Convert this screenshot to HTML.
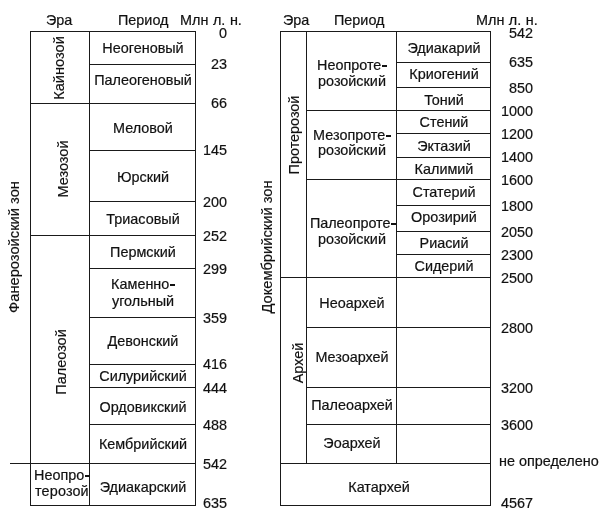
<!DOCTYPE html><html><head><meta charset="utf-8"><style>
html,body{margin:0;padding:0;background:#fff;width:603px;height:517px;overflow:hidden;position:relative}
.l{position:absolute;background:#1a1a1a}
.t{position:absolute;will-change:transform;font-family:"Liberation Sans",sans-serif;font-size:14.4px;line-height:1;color:#111;white-space:nowrap;-webkit-text-stroke:0.2px #111}
.c{text-align:center;width:200px}
.r{text-align:right;width:200px}
.hy{display:inline-block;width:4.7px;height:2px;background:#111;vertical-align:2.6px;margin-left:0.9px}
.v{text-align:center;width:200px;transform-origin:0 0;transform:rotate(-90deg)}
</style></head><body>

<div class="l" style="left:30px;top:31px;width:166px;height:1px"></div>
<div class="l" style="left:30px;top:505px;width:166px;height:1px"></div>
<div class="l" style="left:30px;top:31px;width:1px;height:475px"></div>
<div class="l" style="left:195px;top:31px;width:1px;height:475px"></div>
<div class="l" style="left:89px;top:31px;width:1px;height:475px"></div>
<div class="l" style="left:89px;top:64px;width:107px;height:1px"></div>
<div class="l" style="left:89px;top:150px;width:107px;height:1px"></div>
<div class="l" style="left:89px;top:201px;width:107px;height:1px"></div>
<div class="l" style="left:89px;top:268px;width:107px;height:1px"></div>
<div class="l" style="left:89px;top:317px;width:107px;height:1px"></div>
<div class="l" style="left:89px;top:364px;width:107px;height:1px"></div>
<div class="l" style="left:89px;top:387px;width:107px;height:1px"></div>
<div class="l" style="left:89px;top:424px;width:107px;height:1px"></div>
<div class="l" style="left:30px;top:103px;width:166px;height:1px"></div>
<div class="l" style="left:30px;top:235px;width:166px;height:1px"></div>
<div class="l" style="left:10px;top:463px;width:186px;height:1px"></div>
<div class="l" style="left:280px;top:31px;width:211px;height:1px"></div>
<div class="l" style="left:280px;top:505px;width:211px;height:1px"></div>
<div class="l" style="left:280px;top:31px;width:1px;height:475px"></div>
<div class="l" style="left:490px;top:31px;width:1px;height:475px"></div>
<div class="l" style="left:306px;top:31px;width:1px;height:433px"></div>
<div class="l" style="left:396px;top:31px;width:1px;height:433px"></div>
<div class="l" style="left:396px;top:62px;width:95px;height:1px"></div>
<div class="l" style="left:396px;top:87px;width:95px;height:1px"></div>
<div class="l" style="left:396px;top:133px;width:95px;height:1px"></div>
<div class="l" style="left:396px;top:157px;width:95px;height:1px"></div>
<div class="l" style="left:396px;top:205px;width:95px;height:1px"></div>
<div class="l" style="left:396px;top:231px;width:95px;height:1px"></div>
<div class="l" style="left:396px;top:254px;width:95px;height:1px"></div>
<div class="l" style="left:306px;top:110px;width:185px;height:1px"></div>
<div class="l" style="left:306px;top:179px;width:185px;height:1px"></div>
<div class="l" style="left:306px;top:327px;width:185px;height:1px"></div>
<div class="l" style="left:306px;top:387px;width:185px;height:1px"></div>
<div class="l" style="left:306px;top:424px;width:185px;height:1px"></div>
<div class="l" style="left:280px;top:277px;width:211px;height:1px"></div>
<div class="l" style="left:280px;top:463px;width:211px;height:1px"></div>
<div class="t" style="left:46px;top:13.31px;">Эра</div>
<div class="t" style="left:118px;top:13.31px;">Период</div>
<div class="t" style="left:180px;top:13.31px;word-spacing:0.6px">Млн л. н.</div>
<div class="t" style="left:283px;top:13.31px;">Эра</div>
<div class="t" style="left:334px;top:13.31px;">Период</div>
<div class="t" style="left:476px;top:13.31px;word-spacing:0.5px">Млн л. н.</div>
<div class="t c" style="left:43.30px;top:41.01px;">Неогеновый</div>
<div class="t c" style="left:43.30px;top:73.31px;">Палеогеновый</div>
<div class="t c" style="left:43.30px;top:120.91px;">Меловой</div>
<div class="t c" style="left:43.30px;top:169.51px;">Юрский</div>
<div class="t c" style="left:43.30px;top:211.71px;">Триасовый</div>
<div class="t c" style="left:43.30px;top:244.91px;">Пермский</div>
<div class="t c" style="left:43.30px;top:277.11px;">Каменно<span class="hy"></span></div>
<div class="t c" style="left:43.30px;top:294.01px;">угольный</div>
<div class="t c" style="left:43.30px;top:334.21px;">Девонский</div>
<div class="t c" style="left:43.30px;top:368.71px;">Силурийский</div>
<div class="t c" style="left:43.30px;top:400.01px;">Ордовикский</div>
<div class="t c" style="left:43.30px;top:437.21px;">Кембрийский</div>
<div class="t c" style="left:43.30px;top:479.81px;">Эдиакарский</div>
<div class="t" style="left:34px;top:467.81px;">Неопро<span class="hy"></span></div>
<div class="t" style="left:34.5px;top:483.81px;letter-spacing:0.15px">терозой</div>
<div class="t v" style="left:51.89px;top:168.20px;font-size:14.6px">Кайнозой</div>
<div class="t v" style="left:56.23px;top:269.20px;font-size:14.5px">Мезозой</div>
<div class="t v" style="left:53.73px;top:462.00px;font-size:14.5px">Палеозой</div>
<div class="t v" style="left:6.66px;top:347.00px;font-size:14.7px">Фанерозойский зон</div>
<div class="t r" style="left:26.50px;top:26.31px;">0</div>
<div class="t r" style="left:26.50px;top:57.31px;">23</div>
<div class="t r" style="left:26.50px;top:96.31px;">66</div>
<div class="t r" style="left:26.50px;top:143.31px;">145</div>
<div class="t r" style="left:26.50px;top:194.81px;">200</div>
<div class="t r" style="left:26.50px;top:229.11px;">252</div>
<div class="t r" style="left:26.50px;top:262.31px;">299</div>
<div class="t r" style="left:26.50px;top:310.81px;">359</div>
<div class="t r" style="left:26.50px;top:356.91px;">416</div>
<div class="t r" style="left:26.50px;top:381.31px;">444</div>
<div class="t r" style="left:26.50px;top:417.81px;">488</div>
<div class="t r" style="left:26.50px;top:457.21px;">542</div>
<div class="t r" style="left:26.50px;top:496.31px;">635</div>
<div class="t c" style="left:252.00px;top:58.41px;">Неопроте<span class="hy"></span></div>
<div class="t c" style="left:252.00px;top:73.91px;">розойский</div>
<div class="t c" style="left:252.00px;top:128.01px;">Мезопроте<span class="hy"></span></div>
<div class="t c" style="left:252.00px;top:143.11px;">розойский</div>
<div class="t c" style="left:252.60px;top:216.31px;">Палеопроте<span class="hy"></span></div>
<div class="t c" style="left:252.00px;top:232.01px;">розойский</div>
<div class="t c" style="left:251.90px;top:295.71px;">Неоархей</div>
<div class="t c" style="left:252.40px;top:350.21px;">Мезоархей</div>
<div class="t c" style="left:252.20px;top:398.41px;">Палеоархей</div>
<div class="t c" style="left:252.40px;top:436.01px;">Эоархей</div>
<div class="t c" style="left:278.90px;top:479.81px;">Катархей</div>
<div class="t c" style="left:344.00px;top:40.91px;">Эдиакарий</div>
<div class="t c" style="left:344.00px;top:66.81px;">Криогений</div>
<div class="t c" style="left:344.00px;top:92.51px;">Тоний</div>
<div class="t c" style="left:344.00px;top:115.11px;">Стений</div>
<div class="t c" style="left:344.00px;top:138.51px;">Эктазий</div>
<div class="t c" style="left:344.00px;top:161.71px;">Калимий</div>
<div class="t c" style="left:344.00px;top:185.11px;">Статерий</div>
<div class="t c" style="left:344.00px;top:210.01px;">Орозирий</div>
<div class="t c" style="left:344.00px;top:235.91px;">Риасий</div>
<div class="t c" style="left:344.00px;top:258.81px;">Сидерий</div>
<div class="t v" style="left:287.31px;top:234.90px;">Протерозой</div>
<div class="t v" style="left:291.01px;top:463.20px;">Архей</div>
<div class="t v" style="left:259.66px;top:346.50px;font-size:14.7px">Докембрийский зон</div>
<div class="t r" style="left:332.60px;top:26.31px;">542</div>
<div class="t r" style="left:332.60px;top:55.41px;">635</div>
<div class="t r" style="left:332.60px;top:81.11px;">850</div>
<div class="t r" style="left:332.60px;top:103.91px;">1000</div>
<div class="t r" style="left:332.60px;top:127.21px;">1200</div>
<div class="t r" style="left:332.60px;top:149.91px;">1400</div>
<div class="t r" style="left:332.60px;top:173.01px;">1600</div>
<div class="t r" style="left:332.60px;top:198.81px;">1800</div>
<div class="t r" style="left:332.60px;top:224.61px;">2050</div>
<div class="t r" style="left:332.60px;top:247.61px;">2300</div>
<div class="t r" style="left:332.60px;top:270.81px;">2500</div>
<div class="t r" style="left:332.60px;top:321.01px;">2800</div>
<div class="t r" style="left:332.60px;top:381.01px;">3200</div>
<div class="t r" style="left:332.60px;top:418.21px;">3600</div>
<div class="t r" style="left:332.60px;top:495.71px;">4567</div>
<div class="t" style="left:499px;top:453.81px;">не определено</div>
</body></html>
